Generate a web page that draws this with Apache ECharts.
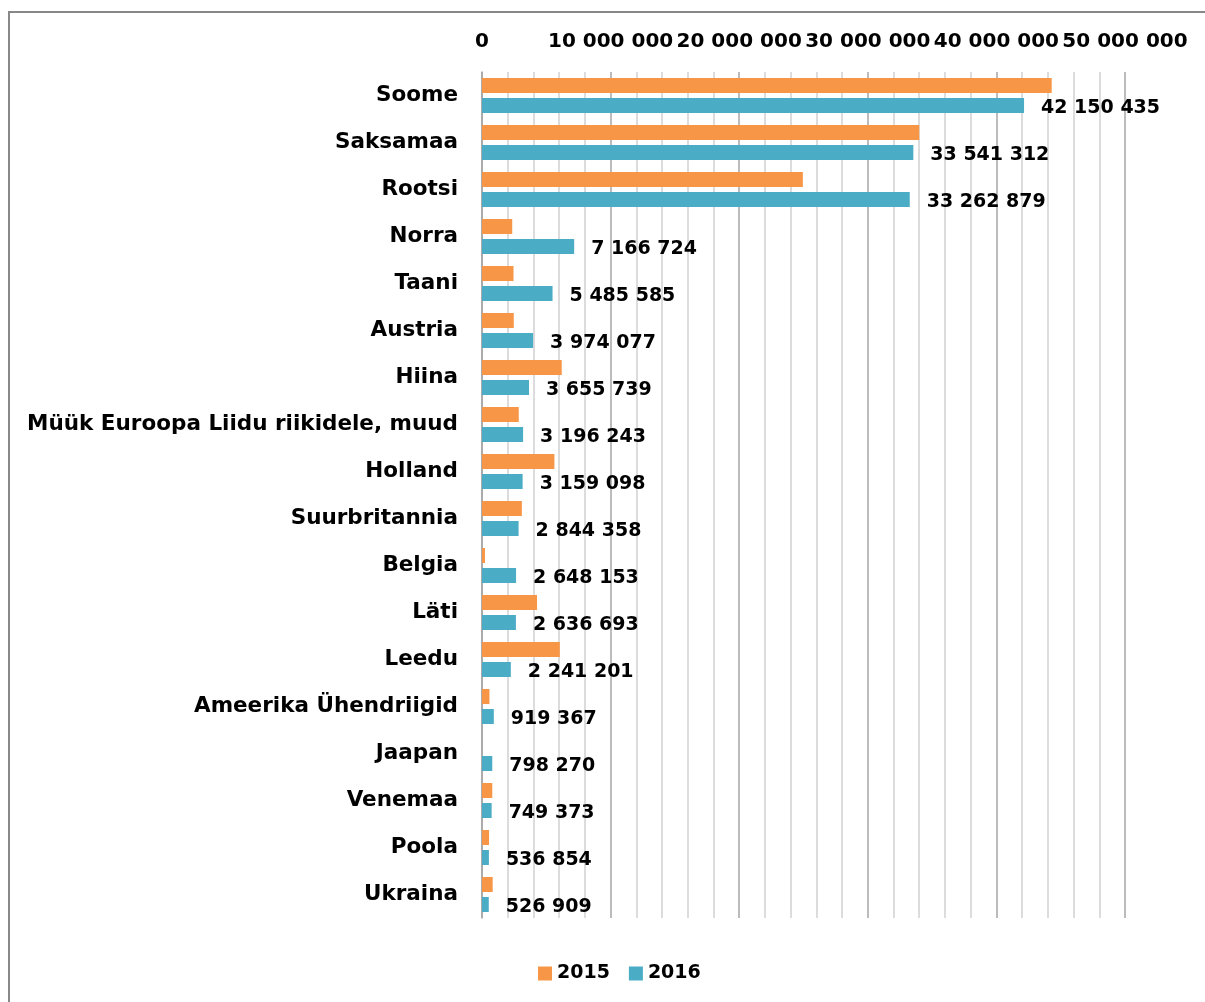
<!DOCTYPE html>
<html><head><meta charset="utf-8">
<script src="https://cdn.jsdelivr.net/npm/echarts@6/dist/echarts.min.js"></script>
<style>
html,body{margin:0;padding:0;background:#fff;overflow:hidden}
#frame{position:absolute;left:8px;top:11px;width:1400px;height:1200px;border:2px solid #888;box-sizing:border-box}
#c{position:absolute;left:0;top:0;width:1205px;height:1002px}
</style></head>
<body><div id="frame"></div><div id="c"></div>
<script>
const categories = ["Soome","Saksamaa","Rootsi","Norra","Taani","Austria","Hiina","Müük Euroopa Liidu riikidele, muud","Holland","Suurbritannia","Belgia","Läti","Leedu","Ameerika Ühendriigid","Jaapan","Venemaa","Poola","Ukraina"];
const values2015 = [44300000,34000000,24950000,2350000,2450000,2470000,6200000,2860000,5630000,3100000,230000,4280000,6050000,580000,0,800000,550000,830000];
const values2016 = [42150435,33541312,33262879,7166724,5485585,3974077,3655739,3196243,3159098,2844358,2648153,2636693,2241201,919367,798270,749373,536854,526909];
const seriesNames = ["2015","2016"];

const FONT = '"DejaVu Sans"';
function fmt(v){ return String(Math.round(v)).replace(/\B(?=(\d{3})+(?!\d))/g,' '); }

const chart = echarts.init(document.getElementById('c'));
chart.setOption({
  backgroundColor: 'transparent',
  animation: false,
  textStyle: {fontFamily: FONT, fontWeight: 'bold', color: '#000'},
  grid: {left: 482, right: 80, top: 72, bottom: 84},
  legend: {
    bottom: 14, left: 533, icon: 'rect', itemWidth: 14, itemHeight: 14, itemGap: 19, itemTextGap: 5,
    textStyle: {fontFamily: FONT, fontWeight: 'bold', fontSize: 19, color: '#000'},
    data: seriesNames
  },
  xAxis: {
    type: 'value', position: 'top', min: 0, max: 50000000, interval: 2000000,
    axisLine: {show: false}, axisTick: {show: false},
    axisLabel: {
      interval: 4, margin: 20,
      fontFamily: FONT, fontWeight: 'bold', fontSize: 20, color: '#000',
      formatter: function(v){ return v % 10000000 === 0 ? fmt(v) : ''; }
    },
    splitLine: {show: true, lineStyle: {color: ['#a6a6a6','#d0d0d0','#d0d0d0','#d0d0d0','#d0d0d0'], width: 1.5}}
  },
  yAxis: {
    type: 'category', inverse: true, data: categories,
    axisLine: {show: true, lineStyle: {color: '#a6a6a6', width: 1.5}},
    axisTick: {show: false},
    axisLabel: {margin: 24, fontFamily: FONT, fontWeight: 'bold', fontSize: 21.5, color: '#000'}
  },
  series: [
    {name: seriesNames[0], type: 'bar', data: values2015, barWidth: 15, barGap: '33%',
     itemStyle: {color: '#F79646'}},
    {name: seriesNames[1], type: 'bar', data: values2016, barWidth: 15,
     itemStyle: {color: '#4BACC6'},
     label: {show: true, position: 'right', distance: 17, offset: [0, 3],
       fontFamily: FONT, fontWeight: 'bold', fontSize: 19, color: '#000',
       formatter: p => fmt(p.value)}}
  ]
});
</script></body></html>
